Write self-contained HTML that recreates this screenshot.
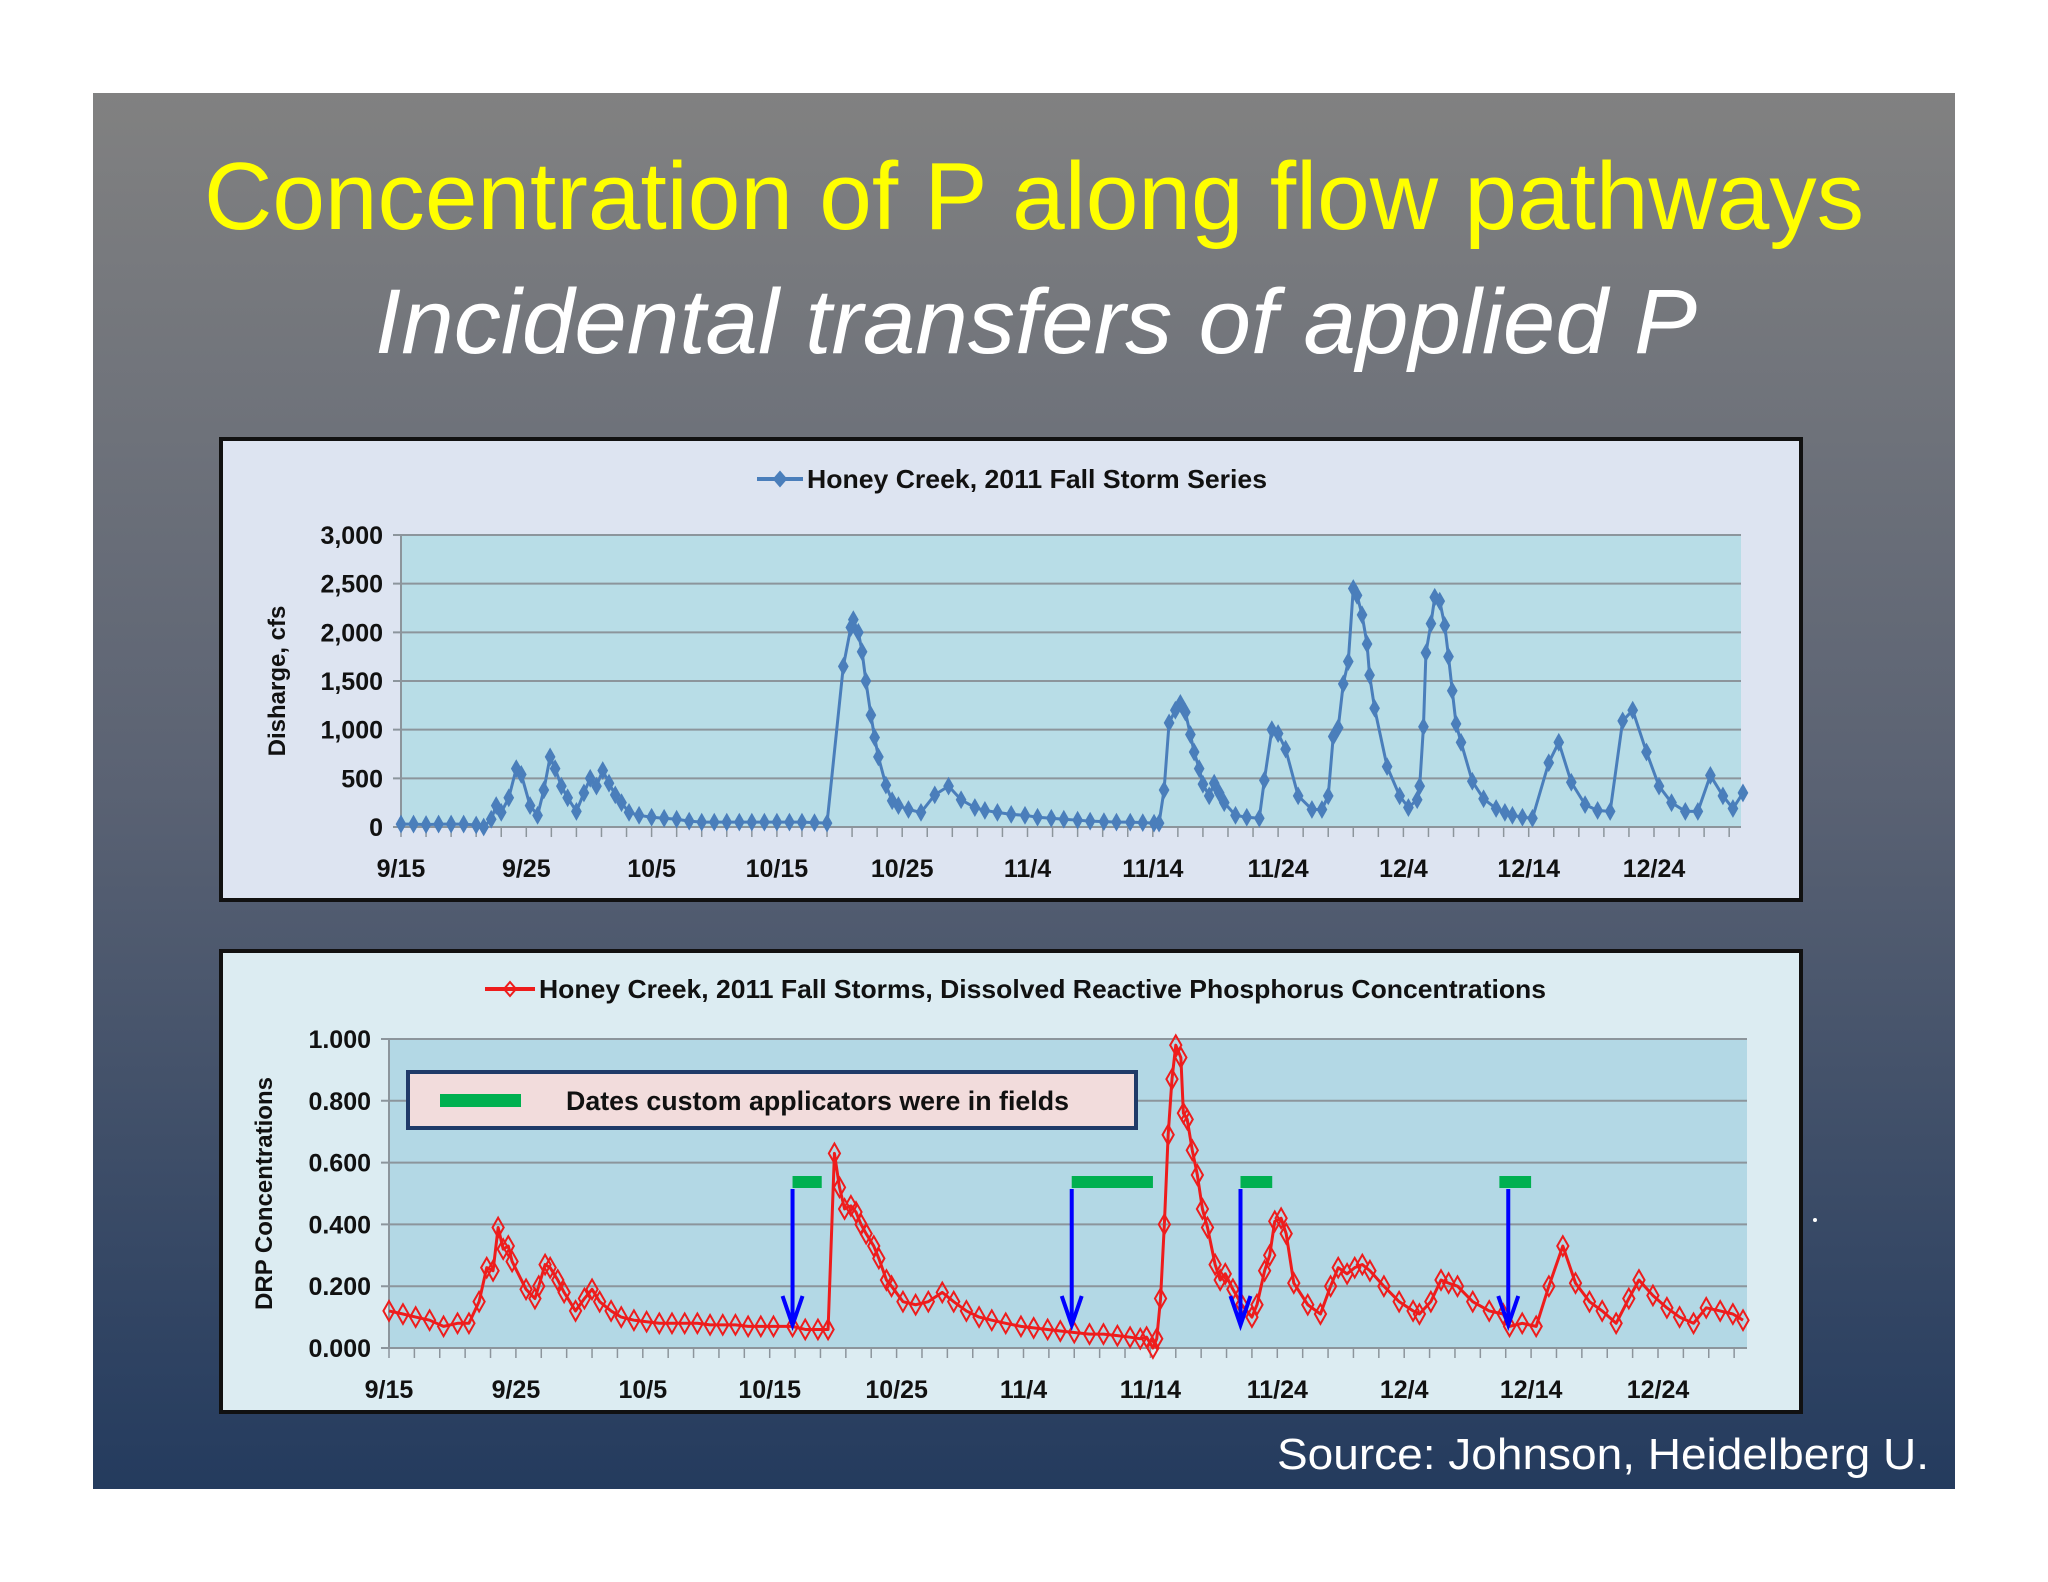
<!DOCTYPE html>
<html><head><meta charset="utf-8"><style>
html,body{margin:0;padding:0;background:#fff;}
svg{display:block;font-family:"Liberation Sans",sans-serif;}
</style></head><body>
<svg id="s" width="2048" height="1582" viewBox="0 0 2048 1582" xmlns="http://www.w3.org/2000/svg">
<defs>
<linearGradient id="bg" x1="0" y1="0" x2="0" y2="1">
<stop offset="0" stop-color="#818181"/><stop offset="0.5" stop-color="#5a6273"/><stop offset="1" stop-color="#243b5e"/>
</linearGradient>
</defs>
<rect x="93" y="93" width="1862" height="1396" fill="url(#bg)"/>
<text x="1034" y="229" text-anchor="middle" font-size="96" fill="#ffff00" textLength="1660" lengthAdjust="spacingAndGlyphs">Concentration of P along flow pathways</text>
<text x="1036" y="353" text-anchor="middle" font-size="92" font-style="italic" fill="#ffffff" textLength="1322" lengthAdjust="spacingAndGlyphs">Incidental transfers of applied P</text>
<text x="1929" y="1469" text-anchor="end" font-size="44" fill="#ffffff" textLength="652" lengthAdjust="spacingAndGlyphs">Source: Johnson, Heidelberg U.</text>
<circle cx="1815" cy="1220" r="2" fill="#fff"/>
<g id="c1"></g>
<g id="c2"></g>
</svg>
<script>
const NS="http://www.w3.org/2000/svg";
// Discharge chart data (day offset from 9/15, cfs)
const qDays=[0,1,2,3,4,5,6,6.6,7.2,7.6,8,8.6,9.2,9.6,10.3,10.9,11.4,11.9,12.3,12.8,13.3,14,14.6,15.1,15.6,16.1,16.6,17.1,17.6,18.2,19,20,21,22,23,24,25,26,27,28,29,30,31,32,33,34,35.3,35.9,36.1,36.5,36.8,37.1,37.5,37.8,38.1,38.7,39.2,39.7,40.5,41.5,42.6,43.7,44.7,45.8,46.6,47.6,48.7,49.8,50.8,51.9,52.9,54,55,56.1,57.1,58.2,59.2,60.1,60.5,60.9,61.3,61.8,62.2,62.6,63,63.3,63.7,64,64.5,64.9,65.3,65.7,66.6,67.5,68.5,68.9,69.5,70,70.6,71.6,72.7,73.5,74,74.4,74.8,75.2,75.6,76,76.3,76.7,77.1,77.3,77.7,78.7,79.7,80.4,81.1,81.3,81.6,81.8,82.2,82.5,82.9,83.3,83.6,83.9,84.2,84.6,85.5,86.4,87.4,88.1,88.7,89.5,90.3,91.6,92.4,93.4,94.5,95.5,96.5,97.5,98.3,99.4,100.4,101.4,102.5,103.5,104.5,105.5,106.3,107.1];
const qVals=[30,30,25,30,30,30,20,0,80,220,150,300,600,540,220,120,380,720,600,420,300,160,350,500,420,580,450,330,250,150,120,100,90,80,60,50,50,50,50,50,50,50,50,50,45,40,1650,2050,2130,2000,1800,1500,1150,920,720,430,270,220,180,150,330,420,280,200,170,150,130,120,100,90,80,70,60,55,50,50,45,40,40,380,1070,1200,1270,1180,950,770,600,440,320,450,350,250,120,100,90,480,1000,960,800,320,180,180,320,930,1020,1470,1700,2450,2380,2180,1880,1560,1220,620,320,200,280,420,1030,1790,2090,2360,2320,2070,1750,1400,1060,870,470,290,190,150,120,100,90,660,870,460,230,170,160,1090,1200,770,420,250,160,160,530,320,190,350];
const qTicks=[0,500,1000,1500,2000,2500,3000];
const qTickLabels=["0","500","1,000","1,500","2,000","2,500","3,000"];
// DRP chart data
const pDays=[0,1.1,2.1,3.2,4.3,5.4,6.3,7.1,7.7,8.2,8.6,9,9.4,9.7,10.8,11.5,11.8,12.3,12.7,13.3,13.8,14.7,15.4,16,16.6,17.5,18.3,19.3,20.3,21.3,22.3,23.3,24.3,25.3,26.3,27.3,28.3,29.3,30.3,31.8,32.8,33.8,34.6,35.1,35.5,35.9,36.4,36.8,37.2,37.6,38.2,38.6,39.2,39.6,40.5,41.5,42.5,43.6,44.5,45.5,46.5,47.5,48.6,49.8,50.8,51.9,52.9,54,55.2,56.3,57.4,58.4,59.2,59.7,60.2,60.5,60.8,61.1,61.4,61.7,62,62.4,62.6,62.9,63.3,63.7,64.1,64.5,65.1,65.5,65.9,66.5,67.2,68,68.4,69,69.4,69.8,70.3,70.7,71.3,72.4,73.4,74.2,74.8,75.5,76.1,76.7,77.3,78.4,79.6,80.7,81.2,82.1,82.9,83.5,84.2,85.4,86.7,87.8,88.3,89.3,90.4,91.4,92.5,93.5,94.6,95.6,96.7,97.7,98.5,99.6,100.7,101.7,102.8,103.8,104.9,105.9,106.7];
const pVals=[.12,.11,.10,.09,.07,.08,.08,.15,.26,.25,.39,.32,.33,.28,.19,.16,.2,.27,.26,.22,.18,.12,.16,.19,.15,.12,.10,.09,.085,.08,.08,.08,.08,.075,.075,.075,.07,.07,.07,.07,.06,.06,.06,.63,.52,.45,.46,.44,.40,.37,.33,.29,.22,.20,.15,.14,.15,.18,.15,.12,.10,.09,.08,.07,.065,.06,.055,.05,.045,.045,.04,.035,.03,.035,0,.03,.16,.40,.69,.87,.98,.94,.76,.74,.64,.56,.45,.39,.27,.22,.24,.19,.14,.10,.14,.25,.30,.41,.42,.37,.21,.14,.11,.20,.26,.24,.26,.27,.25,.20,.15,.12,.11,.15,.22,.21,.20,.15,.12,.11,.07,.08,.07,.20,.33,.21,.15,.12,.08,.16,.22,.17,.13,.10,.08,.13,.12,.11,.09];
const pTicks=[0,.2,.4,.6,.8,1];
const pTickLabels=["0.000","0.200","0.400","0.600","0.800","1.000"];
const xTickDays=[0,10,20,30,40,50,60,70,80,90,100];
const xTickLabels=["9/15","9/25","10/5","10/15","10/25","11/4","11/14","11/24","12/4","12/14","12/24"];
const appStart=[31.8,53.8,67.1,87.5];
const appEnd=[34.1,60.2,69.6,90.0];
const arrowDays=[31.8,53.8,67.1,88.2];

function el(parent,tag,attrs,text){const e=document.createElementNS(NS,tag);for(const k in attrs)e.setAttribute(k,attrs[k]);if(text!==undefined)e.textContent=text;parent.appendChild(e);return e;}

function chart(g,o){
  let e;
  e=el(g,'rect',{x:o.fx,y:o.fy,width:o.fw,height:o.fh,fill:o.frameFill,stroke:'#111',"stroke-width":4});
  
  
  e=el(g,'rect',{x:o.L,y:o.T,width:o.R-o.L,height:o.B-o.T,fill:o.plotFill});
  
  
  const xs=d=>o.x0+d*o.pxDay;
  const ys=v=>o.B-(v-0)/o.ymax*(o.B-o.T);
  o.ticks.forEach((t,i)=>{
    const y=ys(t);
    e=el(g,'line',{x1:o.L-8,x2:o.R,y1:y,y2:y,stroke:'#8c959c',"stroke-width":2});
    
    
    e=el(g,'text',{x:o.L-18,y:y+9,"text-anchor":'end',"font-size":25,"font-weight":'bold',fill:'#111'},o.tickLabels[i]);
    
    
  });
  e=el(g,'line',{x1:o.L,x2:o.L,y1:o.T,y2:o.B,stroke:'#8c959c',"stroke-width":2});
  
  
  for(let d=0;d<=107;d+=2){
    e=el(g,'line',{x1:xs(d),x2:xs(d),y1:o.B,y2:o.B+10,stroke:'#8c959c',"stroke-width":1.5});
    
    
  }
  xTickDays.forEach((d,i)=>{
    e=el(g,'text',{x:xs(d),y:o.xLabY,"text-anchor":'middle',"font-size":25,"font-weight":'bold',fill:'#111'},xTickLabels[i]);
    
    
  });
  e=el(g,'text',{x:o.ytx,y:(o.T+o.B)/2,"text-anchor":'middle',"font-size":24,"font-weight":'bold',fill:'#111',transform:`rotate(-90 ${o.ytx} ${(o.T+o.B)/2})`},o.ytitle);
  
  
  // legend
  e=el(g,'line',{x1:o.lg[0],x2:o.lg[1],y1:o.lg[2],y2:o.lg[2],stroke:o.color,"stroke-width":4});
  
  
  const lm=(o.lg[0]+o.lg[1])/2;
  e=el(g,'path',{d:`M${lm},${o.lg[2]-7}L${lm+6},${o.lg[2]}L${lm},${o.lg[2]+7}L${lm-6},${o.lg[2]}Z`,fill:o.open?'none':o.color,stroke:o.color,"stroke-width":2});
  
  
  e=el(g,'text',{x:o.lg[1]+4,y:o.lg[2]+9,"font-size":26,"font-weight":'bold',fill:'#111',textLength:o.lg[3],lengthAdjust:'spacingAndGlyphs'},o.title);
  
  
  // series
  const pts=o.days.map((d,i)=>[xs(d),ys(o.vals[i])]);
  e=el(g,'polyline',{points:pts.map(p=>p.join(',')).join(' '),fill:'none',stroke:o.color,"stroke-width":3,"stroke-linejoin":'round'});
  
  
  const s=o.ms;
  pts.forEach(p=>{
    e=el(g,'path',{d:`M${p[0]},${p[1]-s*1.4}L${p[0]+s*0.8},${p[1]}L${p[0]},${p[1]+s*1.4}L${p[0]-s*0.8},${p[1]}Z`,fill:o.open?'none':o.color,stroke:o.color,"stroke-width":o.open?2:1});
    
    
  });
  return {xs,ys};
}

chart(document.getElementById('c1'),{fx:221,fy:439,fw:1580,fh:461,frameFill:'#dde4f1',plotFill:'#b8dde7',
  L:401,R:1741,T:535,B:827,x0:401,pxDay:12.53,ymax:3000,ticks:qTicks,tickLabels:qTickLabels,
  xLabY:877,ytx:285,ytitle:'Disharge, cfs',title:'Honey Creek, 2011 Fall Storm Series',
  lg:[757,803,479,460],color:'#4a7ebb',open:false,ms:6,days:qDays,vals:qVals});

const c2=chart(document.getElementById('c2'),{fx:221,fy:951,fw:1580,fh:461,frameFill:'#dcecf2',plotFill:'#b3d8e5',
  L:389,R:1747,T:1039,B:1348,x0:389,pxDay:12.69,ymax:1,ticks:pTicks,tickLabels:pTickLabels,
  xLabY:1398,ytx:272,ytitle:'DRP Concentrations',title:'Honey Creek, 2011 Fall Storms, Dissolved Reactive Phosphorus Concentrations',
  lg:[485,535,989,1007],color:'#ee1c1c',open:true,ms:7,days:pDays,vals:pVals});

const g2=document.getElementById('c2');
let e;
e=el(g2,'rect',{x:408,y:1072,width:728,height:56,fill:'#f2dcdc',stroke:'#1f3a68',"stroke-width":4});


e=el(g2,'rect',{x:440,y:1094,width:81,height:13,fill:'#00b050'});


e=el(g2,'text',{x:566,y:1110,"font-size":27,"font-weight":'bold',fill:'#111',textLength:503,lengthAdjust:'spacingAndGlyphs'},'Dates custom applicators were in fields');


appStart.forEach((d,i)=>{
  e=el(g2,'rect',{x:c2.xs(d),y:1176,width:c2.xs(appEnd[i])-c2.xs(d),height:12,fill:'#00b050'});
  
  
});
arrowDays.forEach(d=>{
  const x=c2.xs(d);
  e=el(g2,'line',{x1:x,x2:x,y1:1189,y2:1322,stroke:'#0000ff',"stroke-width":4});
  
  
  e=el(g2,'path',{d:`M${x-10},${1296}L${x},${1325}L${x+10},${1296}`,fill:'none',stroke:'#0000ff',"stroke-width":4});
  
  
});
</script>
</body></html>
